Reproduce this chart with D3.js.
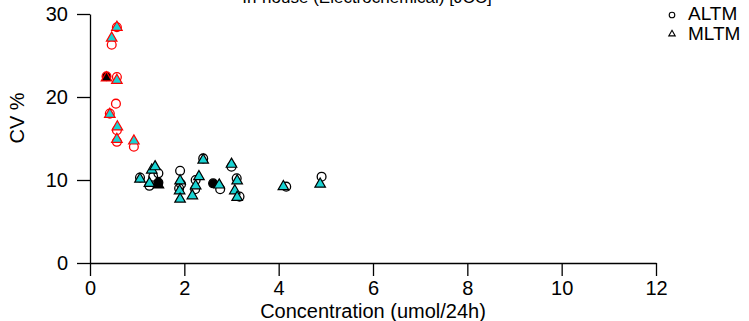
<!DOCTYPE html>
<html><head><meta charset="utf-8">
<script src="https://cdn.jsdelivr.net/npm/d3@7"></script>
<style>body{margin:0;background:#fff}svg{display:block}text{font-family:"Liberation Sans",Arial,sans-serif;fill:#000}</style>
</head><body><div id="chart"></div>
<script>
const titleText = "In-house (Electrochemical) [JCC]";
const xLabel = "Concentration (umol/24h)";
const yLabel = "CV %";
const xTicks = [0, 2, 4, 6, 8, 10, 12];
const yTicks = [0, 10, 20, 30];
const seriesNames = ["ALTM", "MLTM"];

// ALTM (open circles)
const altmX = [0.57, 0.46, 0.57, 0.55, 0.42, 0.57, 0.57, 0.93, 1.06, 1.45, 1.26, 1.34, 1.91, 1.93, 1.89, 2.24, 2.23, 2.40, 2.76, 3.00, 3.11, 3.17, 4.16, 4.91];
const altmY = [28.4, 26.3, 22.4, 19.2, 18.0, 16.0, 14.6, 14.0, 10.3, 10.8, 9.3, 10.4, 11.1, 9.5, 9.0, 10.0, 8.9, 12.6, 8.9, 11.6, 10.2, 8.0, 9.2, 10.4];
// MLTM (filled triangles)
const mltmX = [0.57, 0.46, 0.57, 0.42, 0.58, 0.57, 0.93, 1.06, 1.31, 1.38, 1.26, 1.91, 1.90, 1.91, 2.31, 2.24, 2.17, 2.40, 2.74, 3.00, 3.12, 3.07, 3.12, 4.10, 4.88];
const mltmY = [28.5, 27.2, 22.1, 18.0, 16.5, 15.0, 14.8, 10.2, 11.3, 11.7, 9.7, 10.0, 8.8, 7.8, 10.5, 9.4, 8.2, 12.5, 9.5, 12.0, 10.0, 8.8, 8.0, 9.3, 9.6];
// points drawn solid black
const solidAltmX = [0.35, 1.45, 2.61];
const solidAltmY = [22.5, 9.7, 9.6];
const solidMltmX = [0.35, 1.45];
const solidMltmY = [22.4, 9.5];
const lowThreshold = 1.0;

const W = 749, H = 321;
const svg = d3.select("#chart").append("svg").attr("width", W).attr("height", H);
const x = d3.scaleLinear().domain([0, 12]).range([90, 656]);
const y = d3.scaleLinear().domain([0, 30]).range([263, 14]);
const FS = 20;

// axes
const xAxis = svg.append("g").attr("transform", `translate(0,${y(0)})`)
  .call(d3.axisBottom(x).tickValues(xTicks).tickSize(13).tickSizeOuter(0).tickPadding(5));
const yAxis = svg.append("g").attr("transform", `translate(${x(0)},0)`)
  .call(d3.axisLeft(y).tickValues(yTicks).tickSize(13).tickSizeOuter(0).tickPadding(9));
[xAxis, yAxis].forEach(g => {
  g.select(".domain").attr("stroke", "#000").attr("stroke-width", 1.3);
  g.selectAll(".tick line").attr("stroke", "#000").attr("stroke-width", 1.3);
  g.selectAll(".tick text").attr("font-size", FS).attr("font-family", '"Liberation Sans",Arial,sans-serif').attr("fill", "#000");
});
xAxis.selectAll(".tick text").attr("dy", "0.71em");

svg.append("text").attr("x", x(6)).attr("y", 318).attr("text-anchor", "middle").attr("font-size", FS).text(xLabel);
svg.append("text").attr("transform", `translate(24,118) rotate(-90)`).attr("text-anchor", "middle").attr("font-size", FS).text(yLabel);
svg.append("text").attr("x", 367).attr("y", 3).attr("text-anchor", "middle").attr("font-size", 17).text(titleText);

const col = v => v < lowThreshold ? "#ff0000" : "#000";
const tri = d3.symbol().type(d3.symbolTriangle).size(48);

const altm = altmX.map((v, i) => ({x: v, y: altmY[i]}));
const mltm = mltmX.map((v, i) => ({x: v, y: mltmY[i]}));
const sAltm = solidAltmX.map((v, i) => ({x: v, y: solidAltmY[i]}));
const sMltm = solidMltmX.map((v, i) => ({x: v, y: solidMltmY[i]}));

svg.append("g").selectAll("circle").data(altm).join("circle")
  .attr("cx", d => x(d.x)).attr("cy", d => y(d.y)).attr("r", 4.4)
  .attr("fill", "none").attr("stroke", d => col(d.x)).attr("stroke-width", 1.3);
svg.append("g").selectAll("circle").data(sAltm).join("circle")
  .attr("cx", d => x(d.x)).attr("cy", d => y(d.y)).attr("r", 4.4)
  .attr("fill", "#000").attr("stroke", d => col(d.x)).attr("stroke-width", 1.3);
svg.append("g").selectAll("path").data(mltm).join("path")
  .attr("d", tri).attr("transform", d => `translate(${x(d.x)},${y(d.y) + 0.8})`)
  .attr("fill", "#19d3d3").attr("stroke", d => col(d.x)).attr("stroke-width", 1.2);
svg.append("g").selectAll("path").data(sMltm).join("path")
  .attr("d", tri).attr("transform", d => `translate(${x(d.x)},${y(d.y) + 0.8})`)
  .attr("fill", "#000").attr("stroke", d => col(d.x)).attr("stroke-width", 1.2);

// legend
const lg = svg.append("g");
lg.append("circle").attr("cx", 672).attr("cy", 15).attr("r", 2.8).attr("fill", "none").attr("stroke", "#000").attr("stroke-width", 1.1);
lg.append("path").attr("d", d3.symbol().type(d3.symbolTriangle).size(18)).attr("transform", "translate(672,34)").attr("fill", "none").attr("stroke", "#000").attr("stroke-width", 1.1);
lg.selectAll("text").data(seriesNames).join("text")
  .attr("x", 688).attr("y", (d, i) => 20 + i * 20).attr("font-size", 19).text(d => d);
</script></body></html>
